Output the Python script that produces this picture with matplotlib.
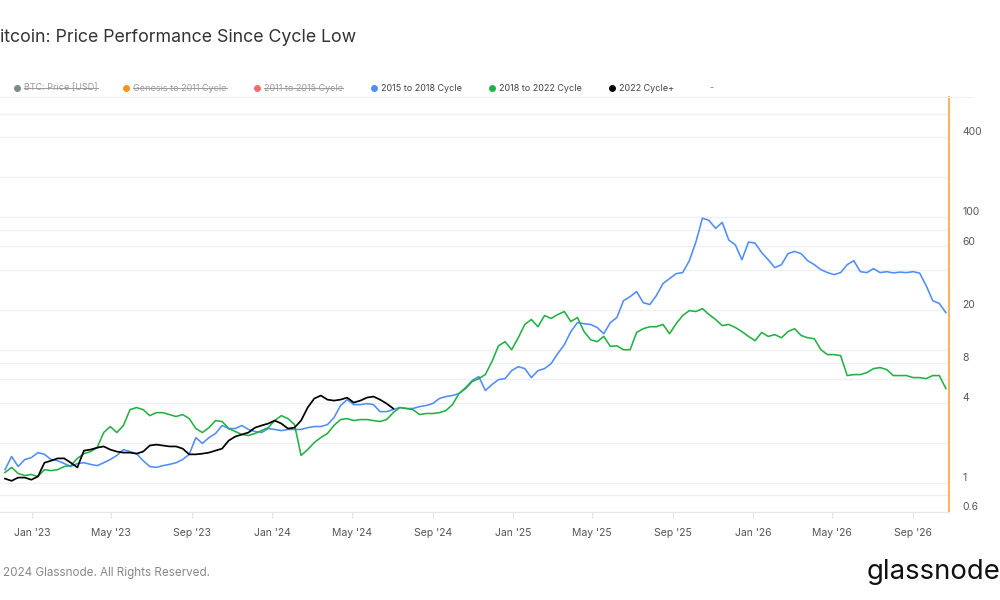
import matplotlib
matplotlib.use("Agg")
import matplotlib.pyplot as plt
import matplotlib.dates as mdates
from matplotlib.lines import Line2D
from datetime import datetime, timedelta

plt.rcParams['font.family'] = ['Inter', 'DejaVu Sans']

# ------------------ Data (one sample every 10 days) ------------------

cycle_low = datetime(2022, 11, 21)
step_days = 10

cycle_2015_2018 = [
    1.25, 1.57, 1.32, 1.49, 1.54, 1.68, 1.63, 1.49, 1.46, 1.39,
    1.32, 1.39, 1.41, 1.37, 1.34, 1.41, 1.49, 1.60, 1.77, 1.71,
    1.65, 1.46, 1.32, 1.30, 1.34, 1.37, 1.41, 1.49, 1.63, 2.18,
    1.97, 2.18, 2.34, 2.69, 2.55, 2.55, 2.69, 2.51, 2.42, 2.38,
    2.55, 2.51, 2.46, 2.51, 2.51, 2.51, 2.59, 2.64, 2.64, 2.73,
    3.08, 3.80, 4.21, 3.86, 3.86, 3.93, 3.86, 3.42, 3.42, 3.54,
    3.67, 3.61, 3.61, 3.73, 3.80, 3.93, 4.29, 4.44, 4.52, 4.68,
    5.19, 5.86, 6.28, 4.93, 5.46, 5.96, 6.06, 6.96, 7.46, 7.21,
    6.17, 6.96, 7.21, 7.86, 9.35, 10.9, 13.7, 16.0, 15.7, 15.5,
    14.7, 13.2, 16.0, 17.5, 23.4, 25.1, 27.4, 22.6, 21.9, 25.6,
    31.5, 34.3, 37.4, 38.1, 46.8, 64.7, 98.0, 94.0, 82.0, 91.0,
    67.0, 61.6, 47.6, 64.7, 63.5, 53.9, 47.6, 41.5, 43.7, 52.9,
    55.0, 52.9, 46.8, 43.7, 40.1, 38.1, 36.8, 38.1, 43.7, 46.8,
    38.7, 38.1, 40.8, 38.1, 38.7, 37.9, 38.4, 38.1, 38.7, 37.8,
    30.4, 23.4, 22.3, 19.0,
]

cycle_2018_2022 = [
    1.19, 1.30, 1.17, 1.13, 1.15, 1.11, 1.25, 1.23, 1.25, 1.32,
    1.34, 1.52, 1.65, 1.71, 1.83, 2.38, 2.64, 2.38, 2.69, 3.54,
    3.67, 3.54, 3.19, 3.36, 3.36, 3.25, 3.14, 3.25, 3.03, 2.55,
    2.38, 2.59, 2.93, 2.88, 2.55, 2.42, 2.30, 2.26, 2.34, 2.46,
    2.59, 2.93, 3.19, 3.03, 2.73, 1.60, 1.77, 2.00, 2.18, 2.34,
    2.69, 2.98, 3.03, 2.93, 2.98, 2.98, 2.93, 2.88, 2.98, 3.36,
    3.67, 3.61, 3.54, 3.25, 3.31, 3.31, 3.36, 3.48, 3.86, 4.68,
    5.10, 5.76, 6.06, 6.50, 8.14, 10.7, 11.5, 10.0, 12.3, 15.5,
    16.9, 14.9, 18.1, 17.2, 18.4, 19.4, 16.3, 17.5, 13.7, 11.9,
    11.5, 12.6, 10.6, 10.7, 10.0, 10.0, 13.5, 14.4, 14.9, 14.9,
    15.5, 13.2, 15.7, 18.1, 19.7, 19.4, 20.4, 18.4, 16.9, 15.2,
    15.5, 14.7, 13.7, 12.6, 11.7, 13.5, 12.6, 13.0, 12.3, 13.7,
    14.4, 12.8, 12.3, 12.1, 10.0, 9.19, 9.19, 9.03, 6.39, 6.50,
    6.50, 6.73, 7.21, 7.34, 7.09, 6.39, 6.39, 6.39, 6.17, 6.17,
    6.06, 6.39, 6.39, 5.10,
]

cycle_2022_plus = [
    1.07, 1.03, 1.09, 1.09, 1.05, 1.11, 1.41, 1.46, 1.52, 1.52,
    1.41, 1.30, 1.74, 1.77, 1.83, 1.87, 1.77, 1.71, 1.68, 1.68,
    1.65, 1.71, 1.90, 1.93, 1.90, 1.87, 1.87, 1.80, 1.63, 1.63,
    1.65, 1.68, 1.74, 1.80, 2.07, 2.22, 2.30, 2.38, 2.59, 2.69,
    2.78, 2.93, 2.78, 2.55, 2.59, 2.93, 3.67, 4.29, 4.52, 4.21,
    4.14, 4.21, 4.36, 4.00, 4.14, 4.36, 4.44, 4.21, 3.93, 3.61,
]

legend_labels = ["BTC: Price [USD]", "Genesis to 2011 Cycle", "2011 to 2015 Cycle",
                 "2015 to 2018 Cycle", "2018 to 2022 Cycle", "2022 Cycle+"]
legend_hidden = [True, True, True, False, False, False]

y_labels = [0.6, 1, 4, 8, 20, 60, 100, 400]
y_grid = [0.6, 0.8, 1, 2, 4, 6, 8, 10, 20, 40, 60, 80, 100, 200, 400, 600]

# ------------------ Styles ------------------

BLUE = "#4f8df8"
GREEN = "#23b043"
BLACK = "#000000"
legend_colors = ["#7b8a8b", "#f7931a", "#f06b6b", BLUE, GREEN, BLACK]
legend_dot_x = [17, 126, 257, 374, 492, 612]


def to_dates(values):
    return [cycle_low + timedelta(days=step_days * i) for i in range(len(values))]


W, H = 1000, 600
fig = plt.figure(figsize=(10, 6), dpi=100)
fig.patch.set_facecolor("white")

ax_left, ax_right, ax_top, ax_bottom = 0, 949, 97, 512
ax = fig.add_axes([ax_left / W, 1 - ax_bottom / H, (ax_right - ax_left) / W, (ax_bottom - ax_top) / H])

ax.set_yscale("log")
ax.set_ylim(0.6, 800)
ax.set_xlim(cycle_low - timedelta(days=7.6), cycle_low + timedelta(days=1434.7))

for v in y_grid:
    ax.axhline(v, color="#efefef", lw=0.9, zorder=0)

ax.plot(to_dates(cycle_2015_2018), cycle_2015_2018, color=BLUE, lw=1.15, zorder=3)
ax.plot(to_dates(cycle_2018_2022), cycle_2018_2022, color=GREEN, lw=1.15, zorder=4)
ax.plot(to_dates(cycle_2022_plus), cycle_2022_plus, color=BLACK, lw=1.25, zorder=5)

# y labels on the right, sitting just above their grid line
ax.set_yticks([])
ax.yaxis.set_minor_locator(matplotlib.ticker.NullLocator())
for v in y_labels:
    ax.annotate(f"{v:g}", xy=(1, v), xycoords=("axes fraction", "data"),
                xytext=(9.5, 3.5), textcoords="offset points",
                ha="left", va="center", fontsize=7.5, color="#555555")

ax.xaxis.set_major_locator(mdates.MonthLocator(bymonth=[1, 5, 9]))
ax.xaxis.set_major_formatter(mdates.DateFormatter("%b '%y"))
ax.tick_params(axis="x", length=4.5, width=0.8, color="#e2e2e2", labelsize=7.5,
               labelcolor="#555555", pad=7)

for side in ["top", "left"]:
    ax.spines[side].set_visible(False)
ax.spines["bottom"].set_color("#e6e6e6")
ax.spines["right"].set_color("#f7b55e")
ax.spines["right"].set_linewidth(1.5)
ax.set_facecolor("white")

# ------------------ Title, legend, footer ------------------

fig.text(0.0005, 1 - 38 / H, "itcoin: Price Performance Since Cycle Low",
         fontsize=12.8, color="#333333", va="center", ha="left")

legend_y = 1 - 88 / H
struck = []
for label, color, hidden, dx in zip(legend_labels, legend_colors, legend_hidden, legend_dot_x):
    fig.add_artist(Line2D([dx / W], [legend_y], marker="o", markersize=5, color=color,
                          markeredgewidth=0, transform=fig.transFigure))
    t = fig.text((dx + 7) / W, legend_y, label, fontsize=6.5, va="center", ha="left",
                 color="#9a9a9a" if hidden else "#444444")
    if hidden:
        struck.append(t)
fig.text(709 / W, legend_y, "-", fontsize=6.5, va="center", ha="left", color="#777777")

fig.add_artist(Line2D([0, 973 / W], [1 - 97 / H, 1 - 97 / H], color="#f0f0f0", lw=0.9,
                      transform=fig.transFigure))

fig.text(0.003, 1 - 573 / H, "2024 Glassnode. All Rights Reserved.", fontsize=8.4,
         color="#888888", va="center", ha="left")
fig.text(867 / W, 1 - 572 / H, "glassnode", fontsize=19.8, color="#111111",
         va="center", ha="left")

# strike-through on the hidden legend entries
fig.canvas.draw()
renderer = fig.canvas.get_renderer()
for t in struck:
    bb = t.get_window_extent(renderer).transformed(fig.transFigure.inverted())
    ymid = bb.y0 + (bb.y1 - bb.y0) * 0.5
    fig.add_artist(Line2D([bb.x0, bb.x1], [ymid, ymid], color="#9a9a9a", lw=0.7,
                          transform=fig.transFigure))

fig.savefig("out.png", dpi=100)
